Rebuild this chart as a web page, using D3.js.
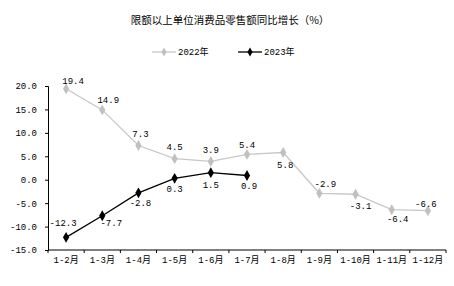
<!DOCTYPE html>
<html>
<head>
<meta charset="utf-8">
<script src="https://cdn.jsdelivr.net/npm/d3@7"></script>
<style>
  body { margin: 0; background: #fff; }
  svg text { font-family: "Liberation Mono", "Noto Sans CJK SC", monospace; }
</style>
</head>
<body>
<div id="chart"></div>
<script>
// chart data
const months = ['1-2月', '1-3月', '1-4月', '1-5月', '1-6月', '1-7月', '1-8月', '1-9月', '1-10月', '1-11月', '1-12月'];
const values2022 = [19.4, 14.9, 7.3, 4.5, 3.9, 5.4, 5.8, -2.9, -3.1, -6.4, -6.6];
const values2023 = [-12.3, -7.7, -2.8, 0.3, 1.5, 0.9];
const yTicks = [-15, -10, -5, 0, 5, 10, 15, 20];

// label placement (dx, dy from the marker centre)
const offsets2022 = [[7, -8], [6, -10], [2, -12], [0, -12], [0, -12], [0, -10], [2, 12], [6, -9], [5, 12], [6, 9], [-2, -7]];
const offsets2023 = [[-3, -14], [9, 7], [2, 10], [0, 11], [0, 12], [2, 10]];

const width = 454;
const height = 286;
const grey = '#c0c0c0';

const svg = d3.select('#chart').append('svg')
  .attr('width', width)
  .attr('height', height);

const x = d3.scaleBand().domain(months).range([48, 446]);
const y = d3.scaleLinear().domain([-15, 20]).range([250, 86]);
const cx = d => x(d) + (x.bandwidth() / 2);

// title
svg.append('text')
  .attr('x', 230)
  .attr('y', 24)
  .attr('text-anchor', 'middle')
  .style('font-family', '"Noto Sans CJK SC", sans-serif')
  .style('font-size', '10.5px')
  .attr('fill', '#000')
  .text('限额以上单位消费品零售额同比增长（%）');

// y axis
const yAxis = svg.append('g')
  .attr('transform', 'translate(48,0)')
  .call(d3.axisLeft(y).tickValues(yTicks).tickSize(3).tickPadding(8)
    .tickFormat(d => d.toFixed(1)));
yAxis.selectAll('text').style('font-size', '9px').attr('fill', '#000');
yAxis.selectAll('line, path').attr('stroke', '#000');

// x axis: labels and boundary ticks
const xAxis = svg.append('g')
  .attr('transform', 'translate(0,250)')
  .call(d3.axisBottom(x).tickSize(0).tickPadding(7));
xAxis.select('.domain').remove();
xAxis.selectAll('text').style('font-size', '9px').attr('fill', '#000');
svg.append('line')
  .attr('x1', 48).attr('x2', 446)
  .attr('y1', 250).attr('y2', 250)
  .attr('stroke', '#000');
svg.append('g').selectAll('line')
  .data(months.map(m => x(m)).concat([x.range()[1]]))
  .join('line')
  .attr('x1', d => d).attr('x2', d => d)
  .attr('y1', 250).attr('y2', 253)
  .attr('stroke', '#000');

const diamond = d3.symbol().type(d3.symbolDiamond).size(34);

function drawSeries(values, color, markerColor, offsets) {
  const pts = values.map((v, i) => ({ m: months[i], v, off: offsets[i] }));
  const line = d3.line().x(d => cx(d.m)).y(d => y(d.v));
  svg.append('path')
    .datum(pts)
    .attr('d', line)
    .attr('fill', 'none')
    .attr('stroke', color)
    .attr('stroke-width', 1.3);
  svg.append('g').selectAll('path')
    .data(pts)
    .join('path')
    .attr('d', diamond)
    .attr('transform', d => `translate(${cx(d.m)},${y(d.v)})`)
    .attr('fill', markerColor);
  svg.append('g').selectAll('text')
    .data(pts)
    .join('text')
    .attr('x', d => cx(d.m) + d.off[0])
    .attr('y', d => y(d.v) + d.off[1])
    .attr('dy', '0.35em')
    .attr('text-anchor', 'middle')
    .style('font-size', '9px')
    .attr('fill', '#000')
    .text(d => d.v.toFixed(1));
}

drawSeries(values2022, '#c8c8c8', grey, offsets2022);
drawSeries(values2023, '#000', '#000', offsets2023);

// legend
const legend = [
  { name: '2022年', color: '#c8c8c8', marker: grey, x: 152 },
  { name: '2023年', color: '#000', marker: '#000', x: 238 },
];
const lg = svg.append('g').selectAll('g')
  .data(legend)
  .join('g')
  .attr('transform', d => `translate(${d.x},52)`);
lg.append('line')
  .attr('x1', 0).attr('x2', 24)
  .attr('stroke', d => d.color)
  .attr('stroke-width', 1.3);
lg.append('path')
  .attr('d', d3.symbol().type(d3.symbolDiamond).size(24))
  .attr('transform', 'translate(12,0)')
  .attr('fill', d => d.marker);
lg.append('text')
  .attr('x', 26)
  .attr('dy', '0.35em')
  .style('font-size', '9px')
  .attr('fill', '#000')
  .text(d => d.name);
</script>
</body>
</html>
